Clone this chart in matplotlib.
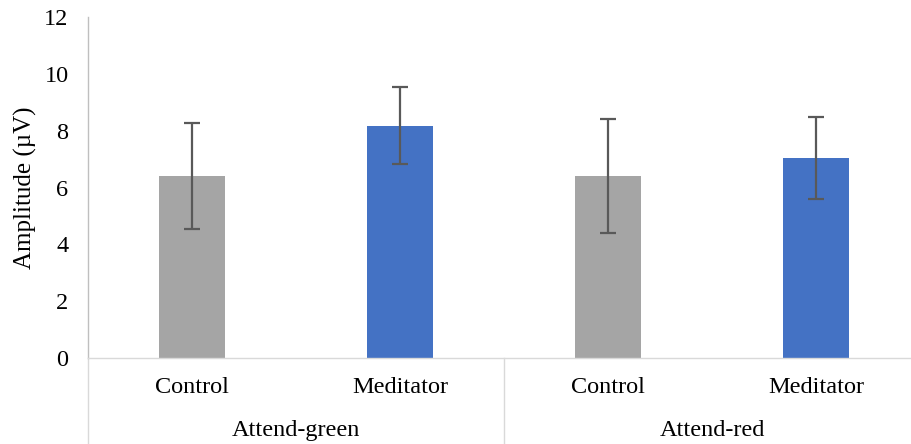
import matplotlib
matplotlib.use("Agg")
import matplotlib.pyplot as plt
import matplotlib.transforms as mtransforms

# Mean amplitudes and standard deviations per condition
groups = ["Attend-green", "Attend-red"]
categories = ["Control", "Meditator", "Control", "Meditator"]
means = [6.41, 8.18, 6.41, 7.04]
errors = [1.87, 1.37, 2.01, 1.44]
bar_colors = ["#a5a5a5", "#4472c4", "#a5a5a5", "#4472c4"]
yticks = [0, 2, 4, 6, 8, 10, 12]

plt.rcParams["font.family"] = ["Liberation Serif", "DejaVu Serif"]

fig = plt.figure(figsize=(9.12, 4.44), dpi=100)
ax = fig.add_axes([88 / 912, 86 / 444, 832 / 912, 341 / 444])

x = list(range(len(categories)))
ax.bar(x, means, width=0.317, color=bar_colors, zorder=2)
ax.errorbar(x, means, yerr=errors, fmt="none", ecolor="#595959",
            elinewidth=1.6, capsize=6, capthick=1.6, zorder=3)

ax.set_xlim(-0.5, len(categories) - 0.5)
ax.set_ylim(0, 12)
ax.set_yticks(yticks)
ax.set_yticklabels([str(t) for t in yticks], fontsize=17.5)
ax.set_xticks(x)
ax.set_xticklabels(categories, fontsize=17.5)
ax.tick_params(axis="y", length=0, pad=14)
ax.tick_params(axis="x", length=0, pad=13.5)

for side in ["top", "right"]:
    ax.spines[side].set_visible(False)
ax.spines["left"].set_color("#bfbfbf")
ax.spines["left"].set_linewidth(1.0)
ax.spines["bottom"].set_color("#d9d9d9")
ax.spines["bottom"].set_linewidth(1.0)

ax.set_ylabel("Amplitude (\u00b5V)", fontsize=18, labelpad=5)

# Group level of the category axis
trans = mtransforms.blended_transform_factory(ax.transData, ax.transAxes)
below = -86 / 341
ax.plot([-0.5, -0.5], [0, below], transform=trans, color="#d9d9d9",
        lw=1.0, clip_on=False)
ax.plot([1.5, 1.5], [0, below], transform=trans, color="#d9d9d9",
        lw=1.0, clip_on=False)
for i, g in enumerate(groups):
    ax.text(2 * i + 0.5, -72 / 341, g, transform=trans, ha="center",
            va="center", fontsize=17.5)

fig.savefig("out.png", dpi=100)
